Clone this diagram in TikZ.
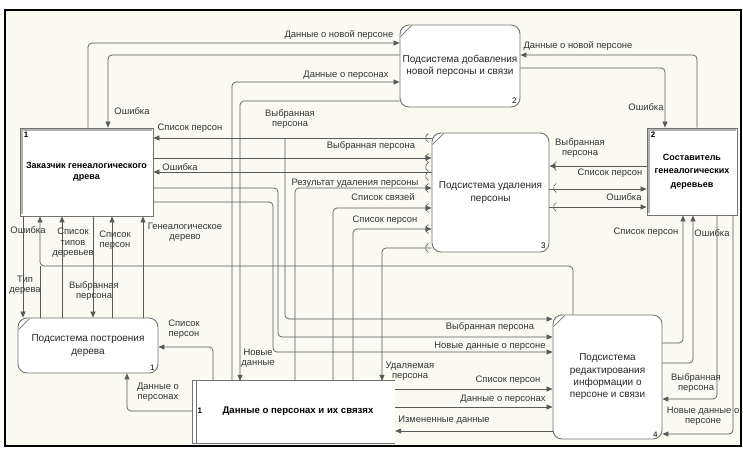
\documentclass[tikz,border=0pt]{standalone}
\usepackage{fontspec}
\setmainfont{Liberation Sans}
\usetikzlibrary{arrows.meta}

\definecolor{paper}{HTML}{FAFAF1}
\definecolor{wire}{HTML}{5A5A5A}

\begin{document}
\begin{tikzpicture}[x=1pt,y=-1pt,
	flow/.style={draw=wire, line width=0.7pt, rounded corners=4pt, -{Triangle[length=6pt,width=5pt]}},
	wireline/.style={draw=wire, line width=0.7pt, rounded corners=4pt},
	tun/.style={draw=wire, line width=0.6pt},
	lbl/.style={font=\fontsize{9.4}{10.5}\selectfont, text=black!80, align=center, inner sep=0pt},
	proc/.style={draw=black!55, line width=0.9pt, fill=white, rounded corners=9pt, inner sep=0pt, align=center, text=black!85, font=\fontsize{10}{12.3}\selectfont},
	ext/.style={draw=black!55, line width=0.9pt, fill=white, inner sep=0pt, align=center, font=\bfseries\fontsize{9}{13.5}\selectfont},
	num/.style={font=\bfseries\fontsize{8}{9}\selectfont, inner sep=0pt}]

	% sheet and frame
	\fill[white] (0,0) rectangle (743,448);
	\fill[paper] (5,10) rectangle (741,446);
	\draw[line width=2pt] (5,10) rectangle (741,446);

	% external entities
	\node[ext, minimum width=133pt, minimum height=88pt] (cust) at (86.5,172) {Заказчик генеалогического\\[-2pt]древа};
	\node[ext, minimum width=90pt, minimum height=87pt] (comp) at (692,171.5) {Составитель\\генеалогических\\деревьев};
	\draw[black!30, line width=1.2pt] ([shift={(2.5,86)}]cust.north west) |- ([shift={(132,2.5)}]cust.north west);
	\draw[black!30, line width=1.2pt] ([shift={(2.5,85)}]comp.north west) |- ([shift={(89,2.5)}]comp.north west);
	\node[num, anchor=north west] (n-cust) at ([shift={(4,4)}]cust.north west) {1};
	\node[num, anchor=north west] (n-comp) at ([shift={(4,4)}]comp.north west) {2};

	% processes
	\node[proc, minimum width=120pt, minimum height=82pt] (add) at (460,66) {Подсистема добавления\\новой персоны и связи};
	\node[proc, minimum width=117pt, minimum height=119pt] (del) at (490.5,192.5) {Подсистема удаления\\персоны};
	\node[proc, minimum width=140pt, minimum height=55pt] (build) at (88,345.5) {Подсистема построения\\дерева};
	\node[proc, minimum width=109pt, minimum height=124pt] (edit) at (607.5,377) {Подсистема\\редактирования\\информации о\\персоне и связи};
	\foreach \p in {add,del,build,edit}
		\draw[black!55, line width=0.7pt] ([shift={(1,12)}]\p.north west) -- ([shift={(12,1)}]\p.north west);
	\node[num, font=\fontsize{8}{9}\selectfont] (n-add) at ([shift={(-6,-7)}]add.south east) {2};
	\node[num, font=\fontsize{8}{9}\selectfont] (n-del) at ([shift={(-6,-7)}]del.south east) {3};
	\node[num, font=\fontsize{8}{9}\selectfont] (n-build) at ([shift={(-6,-6)}]build.south east) {1};
	\node[num, font=\fontsize{8}{9}\selectfont] (n-edit) at ([shift={(-7,-5)}]edit.south east) {4};

	% data store
	\node[inner sep=0pt, minimum width=202pt, minimum height=62pt] (store) at (294,412) {};
	\fill[white] (store.north west) rectangle (store.south east);
	\draw[black!55, line width=0.9pt] (store.north east) -- (store.north west) -- (store.south west) -- (store.south east);
	\draw[black!55, line width=0.7pt] ([xshift=4pt]store.north west) -- ([xshift=4pt]store.south west);
	\node[num] (n-store) at ([shift={(7,-1)}]store.west) {1};
	\node[font=\bfseries\fontsize{9.6}{10}\selectfont, inner sep=0pt] (t-store) at (298,411) {Данные о персонах и их связях};

	% flows round the adding subsystem
	\draw[flow] (88,0 |- cust.north) |- (add.west |- 0,43);
	\draw[flow] (add.west |- 0,55) -| (108,0 |- cust.north);
	\draw[flow] (232,0 |- store.north) |- (add.west |- 0,82);
	\draw[flow] (add.west |- 0,101) -| (240,0 |- store.north);
	\draw[flow] (697,0 |- comp.north) |- (add.east |- 0,55);
	\draw[flow] (add.east |- 0,68) -| (665,0 |- comp.north);

	% flows round the deleting subsystem
	\coordinate (fork) at (285,138);
	\draw[flow] (del.west |- 0,138) -- (cust.east |- 0,138);
	\draw[flow] (fork) |- (edit.west |- 0,319);
	\draw[flow] (cust.east |- 0,158) -- (del.west |- 0,158);
	\draw[flow] (del.west |- 0,172) -- (cust.east |- 0,172);
	\draw[flow] (295,0 |- store.north) |- (del.west |- 0,188);
	\draw[flow] (333,0 |- store.north) |- (del.west |- 0,208);
	\draw[flow] (353,0 |- store.north) |- (del.west |- 0,229);
	\draw[flow] (del.west |- 0,248) -| (382,0 |- store.north);
	\draw[flow] (comp.west |- 0,166) -- (del.east |- 0,166);
	\draw[flow] (del.east |- 0,189) -- (comp.west |- 0,189);
	\draw[flow] (del.east |- 0,207) -- (comp.west |- 0,207);
	\foreach \y in {138,158,167,176,188,208,229,248}
		\draw[tun] ([xshift=-1pt]del.west |- 0,\y) ++(115:5) arc[start angle=115, end angle=245, radius=5];
	\foreach \y in {166,188,207}
		\draw[tun] ([xshift=9pt]del.east |- 0,\y) ++(115:5) arc[start angle=115, end angle=245, radius=5];

	% flows round the editing subsystem
	\draw[flow] (cust.east |- 0,188) -| (278,337) -- (edit.west |- 0,337);
	\draw[flow] (cust.east |- 0,202) -| (273,352) -- (edit.west |- 0,352);
	\draw[flow] (store.east |- 0,389) -- (edit.west |- 0,389);
	\draw[flow] (store.east |- 0,407) -- (edit.west |- 0,407);
	\draw[flow] (edit.west |- 0,431) -- (store.east |- 0,431);
	\draw[flow] (edit.east |- 0,343) -| (683,0 |- comp.south);
	\draw[flow] (edit.east |- 0,363) -| (693,0 |- comp.south);
	\draw[flow] (717,0 |- comp.south) |- (edit.east |- 0,399);
	\draw[flow] (733,0 |- comp.south) |- (edit.east |- 0,434);
	\draw[flow] (573,0 |- edit.north) |- (40,266) -- (40,0 |- cust.south);

	% flows round the tree building subsystem
	\draw[wireline] (40,0 |- build.north) -- (40,266);
	\draw[flow] (23,0 |- cust.south) -- (23,0 |- build.north);
	\draw[flow] (62,0 |- build.north) -- (62,0 |- cust.south);
	\draw[flow] (93,0 |- cust.south) -- (93,0 |- build.north);
	\draw[flow] (112,0 |- build.north) -- (112,0 |- cust.south);
	\draw[flow] (143,0 |- build.north) -- (143,0 |- cust.south);
	\draw[flow] (213,0 |- store.north) |- (build.east |- 0,347);
	\draw[flow] (store.west |- 0,411) -| (127,0 |- build.south);

	% flow labels
	\node[lbl] (l1) at (339,35) {Данные о новой персоне};
	\node[lbl] (l2) at (132,111) {Ошибка};
	\node[lbl] (l3) at (346,75) {Данные о персонах};
	\node[lbl] (l4) at (190,128) {Список персон};
	\node[lbl] (l5) at (290,119) {Выбранная\\персона};
	\node[lbl] (l6) at (371,146) {Выбранная персона};
	\node[lbl] (l7) at (180,167) {Ошибка};
	\node[lbl] (l8) at (355,183) {Результат удаления персоны};
	\node[lbl] (l9) at (383,197) {Список связей};
	\node[lbl] (l10) at (385,220) {Список персон};
	\node[lbl] (l11) at (410,371) {Удаляемая\\персона};
	\node[lbl] (l12) at (578,46) {Данные о новой персоне};
	\node[lbl] (l13) at (646,107) {Ошибка};
	\node[lbl] (l14) at (580,148) {Выбранная\\персона};
	\node[lbl] (l15) at (610,173) {Список персон};
	\node[lbl] (l16) at (624,197) {Ошибка};
	\node[lbl] (l17) at (646,232) {Список персон};
	\node[lbl] (l18) at (712,233) {Ошибка};
	\node[lbl] (l19) at (696,383) {Выбранная\\персона};
	\node[lbl] (l20) at (703,416) {Новые данные о\\персоне};
	\node[lbl] (l21) at (490,327) {Выбранная персона};
	\node[lbl] (l22) at (490,346) {Новые данные о персоне};
	\node[lbl] (l23) at (508,380) {Список персон};
	\node[lbl] (l24) at (503,399) {Данные о персонах};
	\node[lbl] (l25) at (444,420) {Измененные данные};
	\node[lbl] (l26) at (28,230) {Ошибка};
	\node[lbl] (l27) at (73,243) {Список\\типов\\деревьев};
	\node[lbl] (l28) at (115,240) {Список\\персон};
	\node[lbl] (l29) at (185,232) {Генеалогическое\\дерево};
	\node[lbl] (l30) at (25,285) {Тип\\дерева};
	\node[lbl] (l31) at (94,291) {Выбранная\\персона};
	\node[lbl] (l32) at (184,329) {Список\\персон};
	\node[lbl] (l33) at (158,392) {Данные о\\персонах};
	\node[lbl] (l34) at (258,358) {Новые\\данные};
\end{tikzpicture}
\end{document}
